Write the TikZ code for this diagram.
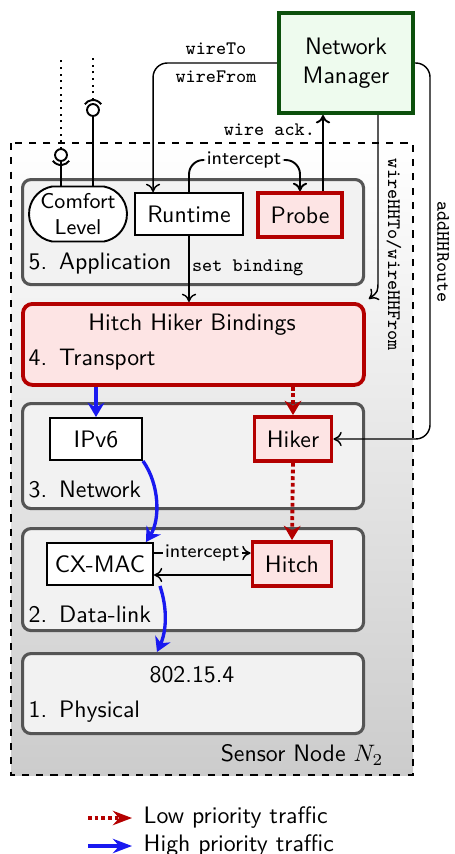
\documentclass[tikz,border=0pt]{standalone}
\usetikzlibrary{arrows.meta,calc,shapes.misc}
\renewcommand{\familydefault}{\sfdefault}
\def\pxu{0.42pt}
\definecolor{hhred}{RGB}{180,0,0}
\definecolor{hhpink}{RGB}{253,228,228}
\definecolor{nmgreen}{RGB}{12,80,12}
\definecolor{nmfill}{RGB}{238,251,238}
\definecolor{layerfill}{RGB}{242,242,242}
\definecolor{layerline}{RGB}{85,85,85}
\definecolor{hpblue}{RGB}{25,25,240}

\begin{document}
\begin{tikzpicture}[x=\pxu, y=-\pxu, > = {To[length=3.5pt,width=6pt]}, semithick,
    box/.style 2 args = {minimum width=#1*\pxu, minimum height=#2*\pxu},
    layer/.style = {draw=layerline, line width=1.3pt, fill=layerfill, rounded corners=3.5pt, anchor=north west, minimum width=341*\pxu},
    comp/.style = {draw, thick, fill=white, inner sep=0pt},
    hh/.style = {draw=hhred, line width=1.6pt, fill=hhpink, inner sep=0pt},
    lname/.style = {anchor=west, inner sep=0pt},
    call/.style = {font=\ttfamily\footnotesize, inner sep=1pt},
    low/.style = {hhred, line width=1.6pt, dash pattern=on 1.6pt off 1.2pt, -{Stealth[length=6pt,width=7pt]}},
    high/.style = {hpblue, line width=1.4pt, -{Stealth[length=6pt,width=7pt]}}]
    \useasboundingbox (0,0) rectangle (454,854);
    \draw [dashed, thick, top color=white, bottom color=black!20] (11,143) rectangle (413,775);
    \node [anchor=east] (sn) at (392,755) {Sensor Node $N_2$};

    \node [layer, minimum height=105*\pxu] (app) at (21,178) {};
    \node [layer, hh, rounded corners=4pt, minimum height=81*\pxu] (tp) at (21,302) {};
    \node [layer, minimum height=105*\pxu] (nw) at (21,402) {};
    \node [layer, minimum height=102*\pxu] (dl) at (21,527) {};
    \node [layer, minimum height=80*\pxu] (ph) at (21,652) {};
    \node [lname] (lapp) at (28,264) {5.\enspace Application};
    \node [lname] (ltp) at (28,360) {4.\enspace Transport};
    \node [lname] (lnw) at (28,489) {3.\enspace Network};
    \node [lname] (ldl) at (28,614) {2.\enspace Data-link};
    \node [lname] (lph) at (28,712) {1.\enspace Physical};
    \node (hhb) at (192,325) {Hitch Hiker Bindings};
    \node (phy) at (192,675) {802.15.4};

    \node [comp, rounded rectangle, rounded rectangle arc length=160, box={98}{55}, align=center, font=\small] (cl) at (78,214) {Comfort\\Level};
    \node [comp, box={108}{42}] (rt) at (189,214) {Runtime};
    \node [hh, box={84}{44}] (pb) at (300,215) {Probe};
    \node [draw=nmgreen, line width=1.7pt, fill=nmfill, box={134}{100}, align=center] (nm) at (346,63) {Network\\Manager};
    \node [comp, box={92}{42}] (ip) at (96,439) {IPv6};
    \node [hh, box={77}{44}] (hk) at (293,439) {Hiker};
    \node [comp, box={106}{42}] (cx) at (100,564) {CX-MAC};
    \node [hh, box={79}{44}] (ht) at (292,564) {Hitch};

    \coordinate (req) at (61,155);
    \coordinate (prov) at (93,110);
    \draw [thick] (req |- cl.north) -- ($(req)+(0,6)$);
    \draw [thick] (req) circle [radius=2.5pt];
    \draw [thick] ([shift={(215:4.2pt)}]req) arc [start angle=215, end angle=325, radius=4.2pt];
    \draw [dotted, thick] ($(req)+(0,-6)$) -- (61,57);
    \draw [thick] (prov |- cl.north) -- ($(prov)+(0,6)$);
    \draw [thick] (prov) circle [radius=2.5pt];
    \draw [thick] ([shift={(35:4.2pt)}]prov) arc [start angle=35, end angle=145, radius=4.2pt];
    \draw [dotted, thick] ($(prov)+(0,-10)$) -- (93,57);

    \draw [->, rounded corners=6pt] (nm.west) -| ($(rt.north west)+(19,0)$);
    \node [call] (wto) at (216,49) {wireTo};
    \node [call] (wfr) at (216,77) {wireFrom};
    \draw [->, thick, rounded corners=6pt] (rt.north) |- (244,160) node [font=\footnotesize, fill=white, inner sep=1pt] (icp) {intercept} -| (pb.north);
    \coordinate (ack) at ($(pb.north)+(23,0)$);
    \draw [->, thick] (ack) -- (ack |- nm.south);
    \node [call, anchor=east] (wack) at (318,130) {wire ack.};
    \draw [->] (rt.south) -- node [call, right, pos=0.48] (sb) {set binding} (rt.south |- tp.north);
    \draw [->] ($(nm.south)+(32,0)$) -- (378,280) .. controls (378,292) .. ([shift={(3,-3)}]tp.north east);
    \node [call, rotate=-90] (hhl) at (394,255) {wireHHTo/wireHHFrom};
    \draw [->, rounded corners=6pt] (nm.east) -- ++(15,0) |- (hk.east);
    \node [call, rotate=-90] (ahr) at (443,252) {addHHRoute};

    \draw [high] (tp.south -| ip.north) -- (ip.north);
    \draw [high] (ip.south east) .. controls (160,485) and (160,520) .. ($(cx.north east)+(-8,0)$);
    \draw [high] ($(cx.south east)+(6,0)$) .. controls (168,610) and (166,632) .. ($(ph.north west)+(136,0)$);
    \draw [low] (tp.south -| hk.north) -- (hk.north);
    \draw [low] (hk.south) -- (ht.north);
    \draw [->] ($(cx.east)+(0,-11)$) -- node [font=\footnotesize, fill=layerfill, inner sep=1pt] (icp2) {intercept} ($(ht.west)+(0,-11)$);
    \draw [->] ($(ht.west)+(0,11)$) -- ($(cx.east)+(0,11)$);

    \coordinate (lowA) at (88,818);
    \coordinate (highA) at (88,846);
    \draw [low, -{Stealth[length=8pt,width=6pt]}] (lowA) -- ++(44,0);
    \draw [high, line width=1.6pt, -{Stealth[length=8pt,width=6pt]}] (highA) -- ++(44,0);
    \node [lname] (lowt) at (143,818) {Low priority traffic};
    \node [lname] (hight) at (143,846) {High priority traffic};
  \end{tikzpicture}
\end{document}
